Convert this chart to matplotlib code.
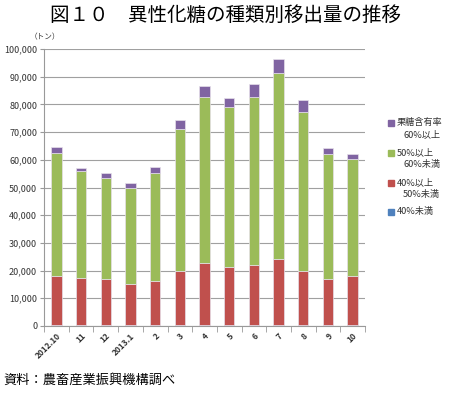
import numpy as np
import matplotlib
matplotlib.use("Agg")
import matplotlib.pyplot as plt
from matplotlib.patches import Rectangle

plt.rcParams['font.family'] = ['Noto Sans CJK JP', 'DejaVu Sans']

# months
months = ["2012.10", "11", "12", "2013.1", "2", "3", "4", "5", "6", "7", "8", "9", "10"]

# tonnes by fructose content
under40 = [300, 250, 250, 250, 250, 300, 300, 250, 250, 300, 250, 200, 250]
p40_50 = [17800, 17050, 16650, 14950, 16150, 19600, 22500, 21150, 21750, 24000, 19650, 16800, 17750]
p50_60 = [44300, 38700, 36700, 34800, 38900, 51300, 60000, 57500, 60800, 66900, 57300, 45200, 42300]
over60 = [2300, 1200, 1700, 1700, 2000, 3200, 4000, 3400, 4500, 5300, 4400, 2200, 1800]

labels = [("40%未満",), ("40%以上", "50%未満"), ("50%以上", "60%未満"), ("果糖含有率", "60%以上")]
colors = ["#4F81BD", "#C0504D", "#9BBB59", "#8064A2"]

W, H = 450, 394


def draw_legend(fig):
    # legend drawn by hand so the swatch sits beside the first line
    ys = [122.7, 152.7, 182.7, 211.7]
    for i, (lab, col) in enumerate(zip(labels[::-1], colors[::-1])):
        y = ys[i]
        fig.patches.append(Rectangle((388 / W, 1 - (y + 3) / H), 5.5 / W, 6 / H,
                                     transform=fig.transFigure, color=col, figure=fig))
        fig.text(396.5 / W, 1 - y / H, lab[0], ha="left", va="center",
                 fontsize=6.6, color="#333333")
        if len(lab) > 1:
            fig.text(403 / W, 1 - (y + 12.3) / H, lab[1], ha="left", va="center",
                     fontsize=6.6, color="#333333")


def main():
    fig = plt.figure(figsize=(4.5, 3.94), dpi=100)
    ax = fig.add_axes([0.098, 0.1726, 0.713, 0.703])

    x = np.arange(len(months))
    bottom = np.zeros(len(months))
    for vals, col in zip([under40, p40_50, p50_60, over60], colors):
        ax.bar(x, vals, width=0.42, bottom=bottom, color=col,
               edgecolor="#e6e0ea", linewidth=0.5, zorder=3)
        bottom += np.array(vals)

    ax.set_ylim(0, 100000)
    ax.set_xlim(-0.5, len(months) - 0.5)
    ax.set_yticks(np.arange(0, 100001, 10000))
    ax.set_yticklabels([f"{v:,}" for v in range(0, 100001, 10000)],
                       fontsize=6.5, color="#333333")
    ax.yaxis.grid(True, color="#a0a0a0", linewidth=0.8, zorder=0)

    ax.set_xticks(x)
    ax.set_xticklabels(months, rotation=45, ha="right", rotation_mode="anchor",
                       fontsize=6, fontweight="semibold", color="#333333")
    ax.set_xticks(np.arange(-0.5, len(months), 1), minor=True)
    ax.tick_params(axis="x", which="major", length=0, pad=4)
    ax.tick_params(axis="x", which="minor", length=4, color="#999999")
    ax.tick_params(axis="y", length=3, color="#999999", pad=2)

    for s in ["top", "right"]:
        ax.spines[s].set_visible(False)
    ax.spines["left"].set_color("#999999")
    ax.spines["bottom"].set_color("#999999")

    fig.text(0.5, 0.962, "図１０　異性化糖の種類別移出量の推移", ha="center", va="center",
             fontsize=14)
    fig.text(0.067, 0.905, "（トン）", ha="left", va="center", fontsize=5.5, color="#333333")
    fig.text(0.008, 0.035, "資料：農畜産業振興機構調べ", ha="left", va="center", fontsize=9.5)

    draw_legend(fig)

    fig.savefig("out.png", dpi=100)


if __name__ == "__main__":
    main()
